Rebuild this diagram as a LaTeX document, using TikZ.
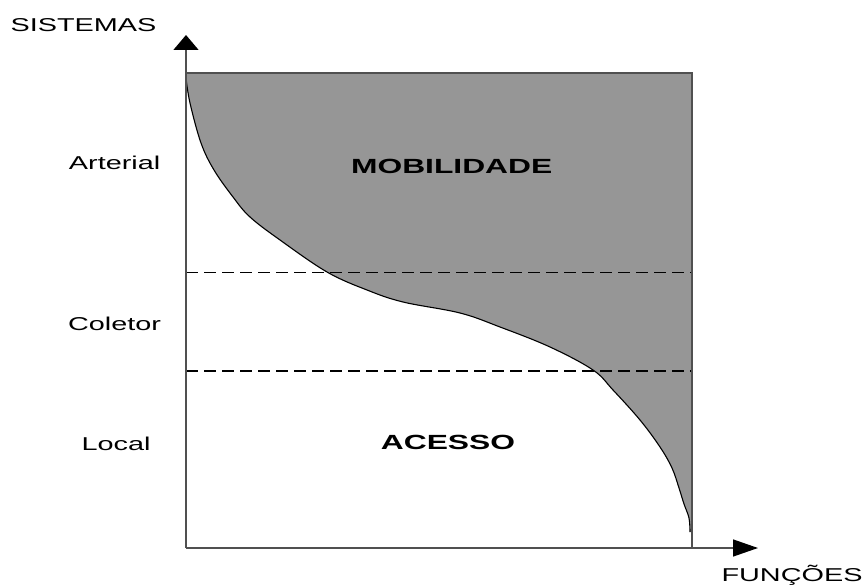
\documentclass[tikz,border=0pt]{standalone}
\usepackage{fontspec}
\setmainfont{Liberation Sans}[FakeStretch=1.55]
\usepackage{tikz}
\usetikzlibrary{arrows.meta}
\definecolor{chartGray}{HTML}{969696}
\definecolor{frameGray}{HTML}{505050}

\begin{document}
\begin{tikzpicture}[
  x=1pt,y=-1pt,
  axislabel/.style={anchor=base,inner sep=0pt,font=\fontsize{18.6}{20}\selectfont},
  zonelabel/.style={anchor=base,inner sep=0pt,font=\fontsize{20.5}{22}\selectfont\bfseries},
  frame/.style={draw=frameGray,line width=1.4pt},
  limit/.style={draw=black,dash pattern=on 12pt off 6pt},
  yarrow/.style={-{Triangle[length=15pt,width=25pt,color=black]},draw=frameGray,line width=1.4pt},
  xarrow/.style={-{Triangle[length=25pt,width=17pt,color=black]},draw=frameGray,line width=1.4pt}
]
\useasboundingbox (0,0) rectangle (864,585);
\coordinate (origin) at (186,548);
\coordinate (topleft) at (186,73);
\coordinate (topright) at (692,73);
\coordinate (ytip) at (186,35);
\coordinate (xtip) at (758,548);
% shaded area above the curve
\fill[chartGray] (topleft) -- (topright) -- (692,532) -- plot[smooth,tension=0.6] coordinates {
  (690,532) (689,518) (684,504) (679,488) (672,468) (660,447) (640,420) (613,390) (593,370)
  (550,347) (500,327) (460,313) (403,302) (367,290) (327,272) (280,240) (250,217)
  (233,197) (214,170) (201,143) (190,103) (186,78)} -- cycle;
\draw[black,line width=1.1pt] plot[smooth,tension=0.6] coordinates {
  (690,532) (689,518) (684,504) (679,488) (672,468) (660,447) (640,420) (613,390) (593,370)
  (550,347) (500,327) (460,313) (403,302) (367,290) (327,272) (280,240) (250,217)
  (233,197) (214,170) (201,143) (190,103) (186,78)};
% class limits
\coordinate (upA) at (186,272);
\coordinate (upB) at (692,272);
\coordinate (lowA) at (186,371);
\coordinate (lowB) at (692,371);
\draw[limit,line width=0.9pt] (upA) -- (upB);
\draw[limit,line width=1.8pt] (lowA) -- (lowB);
% frame and axes
\draw[frame] (topleft) -- (topright) -- (692,548);
\draw[yarrow] (origin) -- (ytip);
\draw[xarrow] (origin) -- (xtip);
% labels
\node[axislabel] (sistemas) at (83.5,31.7) {SISTEMAS};
\node[axislabel] (funcoes) at (792,581.7) {FUNÇÕES};
\node[axislabel] (arterial) at (114.6,170) {Arterial};
\node[axislabel] (coletor) at (114.6,330) {Coletor};
\node[axislabel] (local) at (116,450) {Local};
\node[zonelabel] (mobilidade) at (451.7,173.3) {MOBILIDADE};
\node[zonelabel] (acesso) at (448,449) {ACESSO};
\end{tikzpicture}
\end{document}
